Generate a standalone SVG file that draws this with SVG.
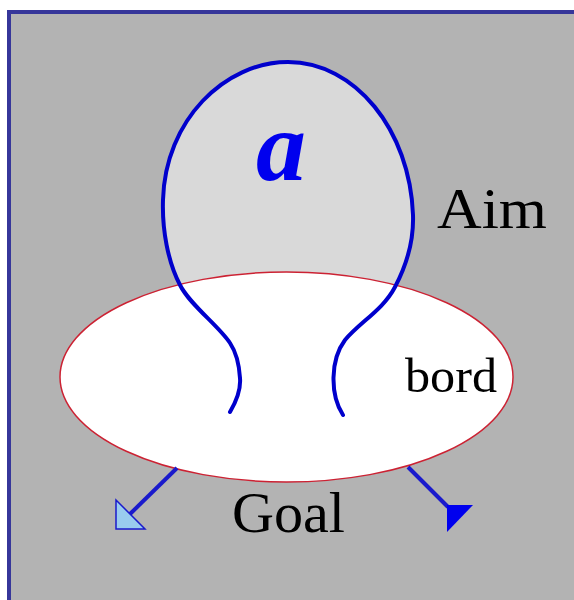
<svg xmlns="http://www.w3.org/2000/svg" width="574" height="600" viewBox="0 0 574 600">
<style>
.lbl{font-family:"Liberation Serif","Times New Roman",serif;fill:#000}
.blue{stroke:#0000cc;stroke-width:4;fill:none;stroke-linecap:round}
.conn{stroke:#1a1acc;stroke-width:4;fill:none}
</style>
<rect x="0" y="0" width="574" height="600" fill="#ffffff"/>
<rect id="frame" x="9" y="12" width="620" height="640" fill="#b3b3b3" stroke="#36369a" stroke-width="4"/>
<g id="aim">
<path d="M230,412 C236,402 241,390 240,378 C239,362 236,352 230,343 C218,325 190,305 180,285 C168,262 162,230 163,200 C165,120 225,62 288,62 C355,62 410,130 413,215 C414,245 405,268 395,287 C383,310 360,322 345,340 C330,360 330,395 343,415 Z" fill="#d9d9d9"/>
</g>
<g id="goal">
<ellipse cx="286.5" cy="377" rx="226.5" ry="105" fill="#ffffff" stroke="#cc2233" stroke-width="1.5"/>
</g>
<g id="aim-outline">
<path class="blue" d="M230,412 C236,402 241,390 240,378 C239,362 236,352 230,343 C218,325 190,305 180,285 C168,262 162,230 163,200 C165,120 225,62 288,62 C355,62 410,130 413,215 C414,245 405,268 395,287 C383,310 360,322 345,340 C330,360 330,395 343,415"/>
</g>
<g id="labels">
<text class="lbl" x="281" y="180" text-anchor="middle" font-size="100" font-weight="bold" font-style="italic" fill="#0000ee" style="fill:#0000ee">a</text>
<text class="lbl" x="437" y="228" font-size="56" textLength="110" lengthAdjust="spacingAndGlyphs">Aim</text>
<text class="lbl" x="405" y="392" font-size="48" textLength="92" lengthAdjust="spacingAndGlyphs">bord</text>
<text class="lbl" x="232" y="532" font-size="56" textLength="113" lengthAdjust="spacingAndGlyphs">Goal</text>
</g>
<g id="connectors">
<line class="conn" x1="177" y1="468" x2="130" y2="514"/>
<polygon points="116,500 116,529 145,529" fill="#99ccee" stroke="#1a1acc" stroke-width="1.5"/>
<line class="conn" x1="408" y1="467" x2="448" y2="507"/>
<polygon points="447,505 473,505 447,532" fill="#0000ee"/>
</g>
</svg>
